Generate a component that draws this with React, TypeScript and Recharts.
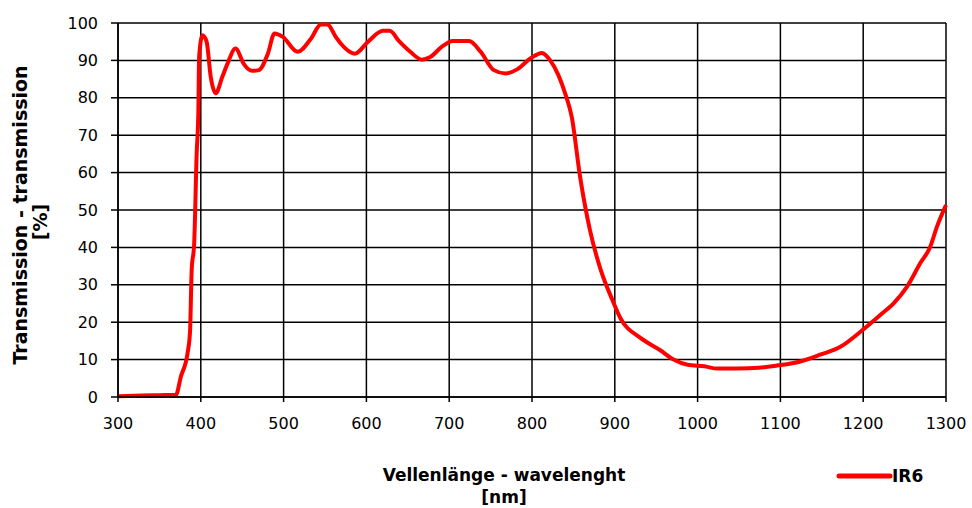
import { LineChart, Line, XAxis, YAxis, CartesianGrid } from 'recharts';

// wavelength in nm
const wavelengths = [
  300, 330, 350, 370, 376, 384, 387, 389, 392, 395, 397, 398, 402, 407, 412, 418, 426, 432, 442, 452,
  462, 470, 481, 489, 499, 517, 533, 545, 553, 563, 569, 586, 602, 620, 628, 640, 653, 667, 677, 692,
  704, 724, 738, 754, 768, 782, 798, 812, 822, 832, 840, 848, 858, 870, 883, 897, 907, 931, 955, 971,
  988, 1008, 1024, 1048, 1074, 1096, 1124, 1148, 1173, 1197, 1221, 1237, 1253, 1269, 1281, 1289, 1300,
];

// IR6 transmission in %
const ir6 = [
  0.2, 0.4, 0.5, 0.6, 5.5, 11.7, 17.5, 34, 41, 65, 76, 91, 96.7, 95, 85.6, 81.2, 85.6, 89, 93.2, 89,
  87.2, 87.4, 91.8, 97.2, 96.3, 92.3, 95.8, 99.6, 99.6, 96.3, 94.5, 91.8, 95, 97.9, 97.9, 95, 92.3, 90.2, 90.9, 93.8,
  95.2, 95.2, 92.3, 87.4, 86.5, 87.6, 90.5, 92, 90, 86, 81.2, 74.9, 59, 44.6, 34, 26, 21, 15.8, 12.5, 10,
  8.6, 8.2, 7.6, 7.6, 7.8, 8.4, 9.5, 11.3, 13.5, 17.5, 22, 25.1, 29.5, 35.8, 40.2, 45.5, 51.3,
];

const xTicks = [300, 400, 500, 600, 700, 800, 900, 1000, 1100, 1200, 1300];
const yTicks = [0, 10, 20, 30, 40, 50, 60, 70, 80, 90, 100];

const data = wavelengths.map((nm, i) => ({ nm, ir6: ir6[i] }));

const font = '"DejaVu Sans", Verdana, sans-serif';

// x title plus the single-entry legend, both sit under the axis
const XTitle = () => (
  <g fontFamily={font} fontWeight="bold" fill="#000">
    <text fontSize={17} textAnchor="middle">
      <tspan x={504} y={481}>Vellenlänge - wavelenght</tspan>
      <tspan x={504} y={503}>[nm]</tspan>
    </text>
    <line x1={839} y1={476} x2={890} y2={476} stroke="#ff0000" strokeWidth={5} strokeLinecap="round" />
    <text x={892} y={482} fontSize={17}>IR6</text>
  </g>
);

const YTitle = () => (
  <g fontFamily={font} fontWeight="bold" fontSize={19} fill="#000">
    <text x={27} y={215} textAnchor="middle" transform="rotate(-90, 27, 215)">
      Transmission - transmission
    </text>
    <text x={47} y={222} textAnchor="middle" transform="rotate(-90, 47, 222)">
      [%]
    </text>
  </g>
);

export default function App() {
  return (
    <div style={{ position: 'absolute', left: 0, top: 0, width: 972, height: 508, background: '#fff' }}>
      <LineChart width={972} height={508} data={data} margin={{ top: 23, right: 26, left: 0, bottom: 0 }}>
        <CartesianGrid stroke="#000" strokeWidth={1.5} />
        <XAxis
          dataKey="nm"
          type="number"
          domain={[300, 1300]}
          ticks={xTicks}
          height={111}
          tickSize={5}
          tickMargin={16}
          stroke="#000"
          strokeWidth={1.5}
          tick={{ fill: '#000', fontSize: 16, fontFamily: font }}
          label={<XTitle />}
        />
        <YAxis
          type="number"
          domain={[0, 100]}
          ticks={yTicks}
          width={118}
          tickSize={7}
          tickMargin={13}
          stroke="#000"
          strokeWidth={1.5}
          tick={{ fill: '#000', fontSize: 16, fontFamily: font }}
          label={<YTitle />}
        />
        <Line
          type="monotone"
          dataKey="ir6"
          name="IR6"
          stroke="#ff0000"
          strokeWidth={4}
          dot={false}
          isAnimationActive={false}
        />
      </LineChart>
    </div>
  );
}
